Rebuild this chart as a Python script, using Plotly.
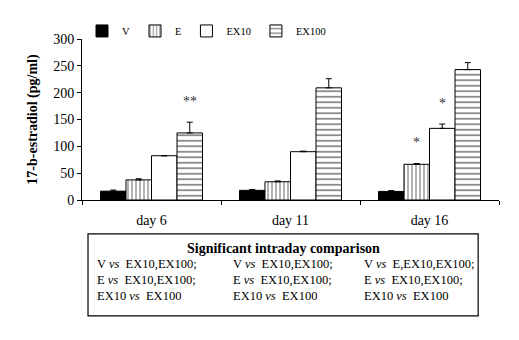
import plotly.graph_objects as go

days = ["day 6", "day 11", "day 16"]
series = ["V", "E", "EX10", "EX100"]
V = [16.5, 18.0, 16.0]
E = [37.5, 34.0, 66.5]
EX10 = [82.5, 90.0, 133.5]
EX100 = [125.0, 209.0, 243.0]
V_err = [2.0, 1.5, 1.5]
E_err = [2.0, 1.5, 1.5]
EX10_err = [0.0, 1.0, 8.0]
EX100_err = [20.0, 17.0, 13.0]
# significance marks: (day, series, label)
sig_marks = [("day 6", "EX100", "**"), ("day 16", "E", "*"), ("day 16", "EX10", "*")]
comparisons = [
    ["V <i>vs</i>  EX10,EX100;", "E <i>vs</i>  EX10,EX100;", "EX10 <i>vs</i>  EX100"],
    ["V <i>vs</i>  EX10,EX100;", "E <i>vs</i>  EX10,EX100;", "EX10 <i>vs</i>  EX100"],
    ["V <i>vs</i>  E,EX10,EX100;", "E <i>vs</i>  EX10,EX100;", "EX10 <i>vs</i>  EX100"],
]
box_title = "Significant intraday comparison"

FONT = "Liberation Serif, Times New Roman, serif"
values = {"V": V, "E": E, "EX10": EX10, "EX100": EX100}
errs = {"V": V_err, "E": E_err, "EX10": EX10_err, "EX100": EX100_err}
styles = {
    "V": dict(color="black", pattern=dict(shape="")),
    "E": dict(color="white", pattern=dict(shape="|", fgcolor="black", bgcolor="white", size=4, solidity=0.3)),
    "EX10": dict(color="white", pattern=dict(shape="")),
    "EX100": dict(color="white", pattern=dict(shape="-", fgcolor="black", bgcolor="white", size=5.5, solidity=0.3)),
}

fig = go.Figure()
for s in series:
    fig.add_trace(go.Bar(
        x=days, y=values[s], name=s,
        marker=dict(color=styles[s]["color"], pattern=styles[s]["pattern"],
                    line=dict(color="black", width=1)),
        error_y=dict(type="data", array=errs[s], arrayminus=[0] * len(days),
                     symmetric=False, color="black", thickness=1, width=3),
    ))

anns = []
bar_w = 25.5
offsets = {s: (i - 1.5) * bar_w for i, s in enumerate(series)}
for day, s, lab in sig_marks:
    i = days.index(day)
    anns.append(dict(x=day, y=values[s][i] + errs[s][i], xref="x", yref="y",
                     text=lab, showarrow=False, xshift=offsets[s], yshift=21,
                     font=dict(family=FONT, size=14, color="#333")))

# comparison box
x0, x1, y0, y1 = 0.0144, 0.950, -0.211, -0.720
fig.add_shape(type="rect", xref="paper", yref="paper", x0=x0, x1=x1, y0=y0, y1=y1,
              line=dict(color="black", width=1.2), fillcolor="white")
anns.append(dict(x=0.484, y=-0.304, xref="paper", yref="paper", text="<b>" + box_title + "</b>",
                 showarrow=False, yanchor="middle",
                 font=dict(family=FONT, size=14, color="black")))
col_x = [0.031, 0.357, 0.671]
row_y = [-0.398, -0.497, -0.596]
for c, col in enumerate(comparisons):
    for r, txt in enumerate(col):
        anns.append(dict(x=col_x[c], y=row_y[r], xref="paper", yref="paper", text=txt,
                         showarrow=False, xanchor="left", yanchor="middle",
                         font=dict(family=FONT, size=12.5, color="black")))

fig.update_layout(
    width=519, height=340,
    margin=dict(l=82, r=20, t=39, b=140),
    paper_bgcolor="white", plot_bgcolor="white",
    barmode="group", bargap=0.266, bargroupgap=0,
    font=dict(family=FONT, size=13, color="black"),
    showlegend=True,
    legend=dict(orientation="h", x=0.0, y=1.05, xanchor="left", yanchor="middle",
                font=dict(family=FONT, size=10.5), itemwidth=30, bgcolor="rgba(0,0,0,0)",
                traceorder="normal"),
    annotations=anns,
)
fig.update_xaxes(type="category", tickson="boundaries", ticks="outside", ticklen=4,
                 showline=True, linecolor="black", linewidth=1, tickcolor="black",
                 tickfont=dict(family=FONT, size=14), ticklabelstandoff=7)
fig.update_yaxes(range=[0, 300], tickvals=[0, 50, 100, 150, 200, 250, 300], ticks="outside",
                 ticklen=4, showline=True, linecolor="black", linewidth=1, tickcolor="black",
                 showgrid=False, zeroline=False, tickfont=dict(family=FONT, size=14),
                 title=dict(text="<b>17-b-estradiol (pg/ml)</b>", font=dict(family=FONT, size=14), standoff=12))

fig.write_html("out.html")
